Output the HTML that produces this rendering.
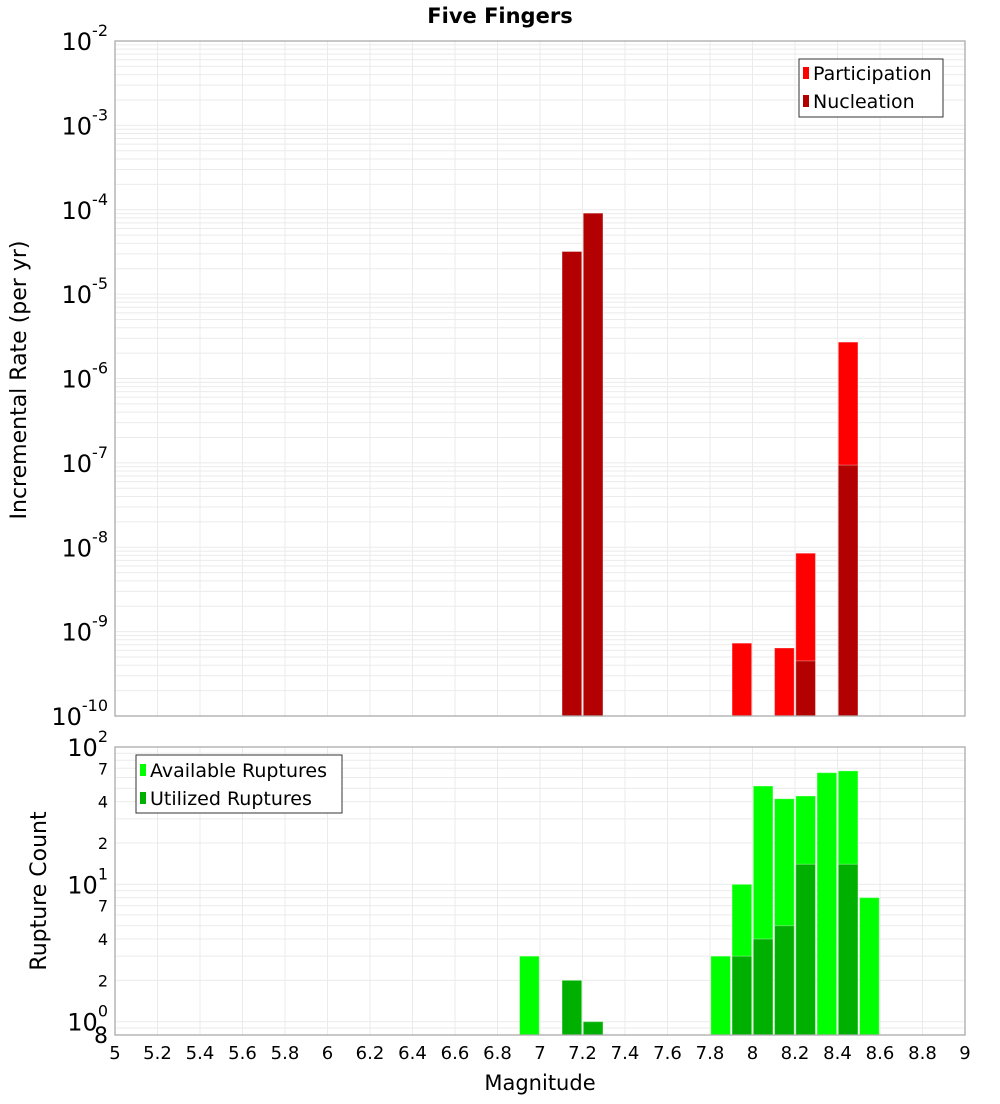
<!DOCTYPE html>
<html><head><meta charset="utf-8"><style>
body{margin:0;background:#fff;font-family:"DejaVu Sans","Liberation Sans",sans-serif;}
svg text{font-family:"DejaVu Sans","Liberation Sans",sans-serif;}
</style></head><body>
<svg id="chart" width="1000" height="1100" xmlns="http://www.w3.org/2000/svg">
<rect width="1000" height="1100" fill="#fff"/>
<text x="500" y="23" text-anchor="middle" font-size="21" font-weight="bold">Five Fingers</text>
<g id="gtop"></g>
<g id="gbot"></g>
<text transform="translate(26,380) rotate(-90)" text-anchor="middle" font-size="22">Incremental Rate (per yr)</text>
<text transform="translate(46,891) rotate(-90)" text-anchor="middle" font-size="22">Rupture Count</text>
<text x="540" y="1090" text-anchor="middle" font-size="21">Magnitude</text>
<g>
<rect x="799" y="59" width="144" height="58" fill="#fff" stroke="#333" stroke-width="1"/>
<rect x="803" y="67" width="6" height="12" fill="#ff0000"/>
<text x="813" y="80" font-size="19">Participation</text>
<rect x="803" y="95" width="6" height="12" fill="#b00000"/>
<text x="813" y="108" font-size="19">Nucleation</text>
</g>
<g>
<rect x="136" y="755" width="206" height="58" fill="#fff" stroke="#333" stroke-width="1"/>
<rect x="140" y="764" width="6" height="12" fill="#00ff00"/>
<text x="150" y="777" font-size="19">Available Ruptures</text>
<rect x="140" y="792" width="6" height="12" fill="#00b000"/>
<text x="150" y="805" font-size="19">Utilized Ruptures</text>
</g>
</svg>
<script>
const mags = [6.95, 7.15, 7.25, 7.85, 7.95, 8.05, 8.15, 8.25, 8.35, 8.45, 8.55];
const participation = [0, 3.2e-5, 9.1e-5, 0, 7.3e-10, 0, 6.4e-10, 8.5e-9, 0, 2.7e-6, 0];
const nucleation = [0, 3.2e-5, 9.1e-5, 0, 0, 0, 0, 4.5e-10, 0, 9.4e-8, 0];
const available = [3, 2, 1, 3, 10, 52, 42, 44, 65, 67, 8];
const utilized = [0, 2, 1, 0, 3, 4, 5, 14, 0, 14, 0];
const xTicks = [5,5.2,5.4,5.6,5.8,6,6.2,6.4,6.6,6.8,7,7.2,7.4,7.6,7.8,8,8.2,8.4,8.6,8.8,9];
const xTickLabels = ["5","5.2","5.4","5.6","5.8","6","6.2","6.4","6.6","6.8","7","7.2","7.4","7.6","7.8","8","8.2","8.4","8.6","8.8","9"];
const topDecades = [-10,-9,-8,-7,-6,-5,-4,-3,-2];
const botMinorLabels = [2,4,7,20,40,70];

const NS="http://www.w3.org/2000/svg";
const L=115,R=965;
const xs=m=>L+(m-5)/4*(R-L);
const TT=41,TB=716, tMin=-10,tMax=-2;
const yt=v=>TB-(Math.log10(v)-tMin)/(tMax-tMin)*(TB-TT);
const BT=747,BB=1035,bMin=Math.log10(0.8),bMax=2;
const yb=v=>BB-(Math.log10(v)-bMin)/(bMax-bMin)*(BB-BT);
function mk(p,t,a){const e=document.createElementNS(NS,t);for(const k in a)e.setAttribute(k,a[k]);p.appendChild(e);return e;}
const gTop=document.getElementById('gtop'),gBot=document.getElementById('gbot');

function grid(g,y0,y1,yf,lo,hi){
  for(let d=Math.floor(lo);d<=hi;d++)for(let k=1;k<10;k++){const v=k*Math.pow(10,d);const lv=Math.log10(v);if(lv<lo-1e-9||lv>hi+1e-9)continue;
    const y=yf(v);const l=mk(g,'line',{x1:L,x2:R,y1:y,y2:y,stroke:'#ebebeb','stroke-width':1});
    
    }
  xTicks.forEach(m=>{const x=xs(m);const l=mk(g,'line',{x1:x,x2:x,y1:y0,y2:y1,stroke:'#ebebeb','stroke-width':1});
    
    });
}
grid(gTop,TT,TB,yt,tMin,tMax);
grid(gBot,BT,BB,yb,bMin,bMax);
const bw=(R-L)/40;
function bar(g,m,v,yf,base,col,name){if(!v)return;const x=xs(m)-bw/2+0.8;const y=yf(v);
  const r=mk(g,'rect',{x:x,y:y,width:bw-1.6,height:base-y,fill:col,stroke:'rgba(255,255,255,0.35)','stroke-width':1});
  
  }
mags.forEach((m,i)=>{bar(gTop,m,participation[i],yt,TB,'#ff0000','participation-bar');bar(gTop,m,nucleation[i],yt,TB,'#b30000','nucleation-bar');
  bar(gBot,m,available[i],yb,BB,'#00ff00','available-bar');bar(gBot,m,utilized[i],yb,BB,'#00b000','utilized-bar');});
[[gTop,TT,TB],[gBot,BT,BB]].forEach(([g,a,b])=>{const f=mk(g,'rect',{x:L,y:a,width:R-L,height:b-a,fill:'none',stroke:'#aaa','stroke-width':1.3});
  
  });
function decLabel(g,y,exp){const t=mk(g,'text',{x:108,y:y+9,'text-anchor':'end','font-size':24});
  
  
  t.textContent='10';const s=mk(t,'tspan',{dy:-14,'font-size':16});s.textContent=String(exp);}
topDecades.forEach(d=>decLabel(gTop,yt(Math.pow(10,d)),d));
[0,1,2].forEach(d=>decLabel(gBot,yb(Math.pow(10,d)),d));
botMinorLabels.forEach(v=>{const t=mk(gBot,'text',{x:108,y:yb(v)+6,'text-anchor':'end','font-size':16});
  
  
  t.textContent=String(v).charAt(0);});
{const t=mk(gBot,'text',{x:108,y:1043,'text-anchor':'end','font-size':22});
  
  
  t.textContent='8';}
xTicks.forEach((m,i)=>{const t=mk(gBot,'text',{x:xs(m),y:1059,'text-anchor':'middle','font-size':18});
  
  
  t.textContent=xTickLabels[i];});
</script>
</body></html>
